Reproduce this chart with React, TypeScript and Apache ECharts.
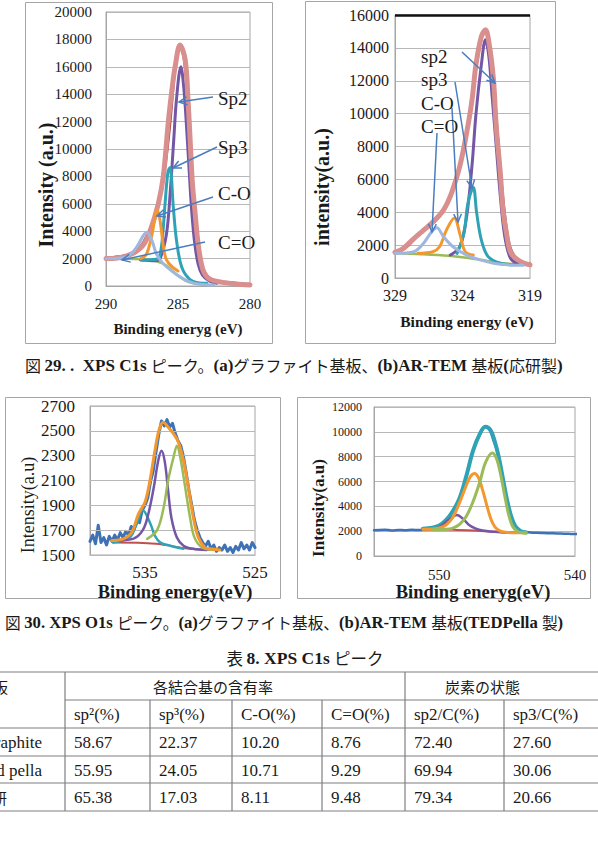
import React, { useEffect, useRef } from "react";
import * as echarts from "echarts";

// ---------- (a) XPS C1s, graphite substrate ----------
const c1XTicks = [280, 285, 290];
const c1Raw = [[290,2050],[289.5,2080],[289,2150],[288.5,2250],[288,2500],[287.5,3000],[287,4000],[286.5,5400],[286,8000],[285.6,11500],[285.2,16000],[284.9,17500],[284.6,16800],[284.3,13500],[284,7600],[283.7,3800],[283.4,1800],[283.1,900],[282.7,500],[282.2,330],[281.5,250],[281,200],[280.5,150],[280,120]];
const c1Envelope = [[290,2000],[289.2,2050],[288.56,2200],[288,2450],[287.4,3000],[286.94,4000],[286.37,6000],[286.02,8000],[285.67,12000],[285.4,14500],[285.2,16000],[284.86,17600],[284.5,16500],[284.3,13500],[284.15,10500],[284,7500],[283.8,5200],[283.65,3500],[283.45,2000],[283.2,1000],[282.8,500],[282,280],[281,150],[280,80]];
const c1Sp2 = [[287.6,1900],[286.6,1850],[286.25,2000],[285.8,3800],[285.55,6700],[285.3,10600],[285.1,13700],[284.8,16000],[284.6,14500],[284.4,11500],[284.2,8000],[284.05,5500],[283.85,3200],[283.6,1600],[283.3,800],[282.8,350],[282.3,200]];
const c1Sp3 = [[287.5,1900],[286.5,1950],[286.3,2100],[286.1,3300],[285.9,6000],[285.7,8300],[285.56,8650],[285.32,5700],[285.1,3300],[284.75,1400],[284.2,500],[283.5,220],[283,200]];
const c1CO = [[287.6,2000],[287.2,2300],[286.8,3800],[286.55,5300],[286.44,5550],[286.25,4800],[286,2800],[285.8,1900],[285.4,1400],[285,1100]];
const c1CdO = [[290,2000],[288.6,2100],[287.9,2800],[287.4,3700],[287.18,3930],[286.8,3300],[286.5,2350],[286,1600],[285.3,1000],[284.6,500],[283.9,200],[283,100],[282.5,80]];
const c1Base = [[290,2000],[287.5,1950],[286.5,1800],[285.8,1500],[285.3,1000],[284.8,600],[284.3,300],[283.5,150],[283,100]];
const c1Labels = ["Sp2", "Sp3", "C-O", "C=O"];

// ---------- (b) XPS C1s, AR-TEM substrate (応研製) ----------
const c2XTicks = [319, 324, 329];
const c2Top = [16000];
const c2Raw = [[329,1600],[328.5,1700],[328,2000],[327.5,2450],[327,2800],[326.5,3150],[326,3500],[325.5,4000],[325,4800],[324.5,5900],[324,7600],[323.5,9800],[323,12800],[322.6,14600],[322.3,15000],[322,14000],[321.7,11800],[321.4,8600],[321.1,5600],[320.8,3300],[320.5,1900],[320.1,1250],[319.6,950],[319,850]];
const c2Envelope = [[329,1560],[328.4,1800],[327.6,2400],[326.9,2900],[326.2,3400],[325.4,4150],[324.8,5200],[324.2,6800],[323.7,8800],[323.3,10800],[323,13000],[322.6,14700],[322.3,15100],[322,14100],[321.7,12000],[321.5,9200],[321.2,6400],[321,4150],[320.7,2500],[320.4,1500],[319.7,1000],[319,800]];
const c2Sp2 = [[324.9,1400],[324.2,1900],[323.7,3700],[323.3,6800],[323,10000],[322.6,13000],[322.3,14500],[322.05,13500],[321.8,11000],[321.5,8000],[321.2,5000],[320.9,2700],[320.5,1300],[320,900],[319.3,820]];
const c2Sp3 = [[324.4,1500],[323.9,2700],[323.6,4550],[323.2,5500],[322.95,3950],[322.6,2300],[322.1,1300],[321.2,900],[320.2,800]];
const c2CO = [[327.3,1500],[326.2,1600],[325.7,1900],[325.2,2900],[324.6,3650],[324.2,2700],[323.8,1600],[323.2,1400]];
const c2CdO = [[329,1500],[327.6,1600],[326.9,2100],[326.3,2800],[325.9,3050],[325.4,2500],[324.7,1900],[323.7,1400],[322.7,1100],[321.7,900],[320.7,800],[319.5,780]];
const c2Base = [[329,1500],[327,1450],[325,1350],[323,1150],[321,900],[319,800]];
const c2Labels = ["sp2", "sp3", "C-O", "C=O"];

// ---------- (a) XPS O1s, graphite substrate ----------
const o1XTicks = [525, 535];
const o1YTicks = [1500, 1700, 1900, 2100, 2300, 2500, 2700];
const o1Raw = [[540,1610],[539.75,1660],[539.5,1590],[539.25,1740],[539,1600],[538.75,1640],[538.5,1580],[538.25,1650],[538,1610],[537.75,1660],[537.5,1620],[537.25,1680],[537,1640],[536.75,1690],[536.5,1660],[536.25,1730],[536,1700],[535.75,1780],[535.5,1760],[535.25,1860],[535,1900],[534.75,1960],[534.5,2090],[534.25,2180],[534,2330],[533.75,2470],[533.5,2580],[533.25,2540],[533,2590],[532.75,2530],[532.5,2560],[532.25,2480],[532,2420],[531.75,2380],[531.5,2290],[531.25,2160],[531,2020],[530.75,1900],[530.5,1780],[530.25,1700],[530,1640],[529.75,1600],[529.5,1570],[529.25,1610],[529,1550],[528.75,1580],[528.5,1530],[528.25,1560],[528,1540],[527.75,1580],[527.5,1530],[527.25,1560],[527,1520],[526.75,1570],[526.5,1540],[526.25,1600],[526,1550],[525.75,1580],[525.5,1540],[525.25,1600],[525,1560]];
const o1Envelope = [[538.03,1616],[536.97,1630],[536.2,1683],[535.6,1830],[535,1925],[534.55,2100],[534.1,2340],[533.7,2515],[533.33,2570],[532.9,2530],[532.4,2475],[531.97,2410],[531.5,2260],[531.06,2045],[530.6,1800],[530.15,1640],[529.55,1560],[529.1,1550],[528.2,1540]];
const o1PeakA = [[537.9,1616],[536.1,1630],[535.2,1700],[534.7,1830],[534.2,2045],[533.8,2260],[533.5,2340],[533.2,2250],[532.9,2020],[532.6,1800],[532.1,1640],[531.5,1575],[530.6,1550],[529.4,1540]];
const o1PeakB = [[534.8,1630],[533.9,1700],[533.3,1885],[532.9,2100],[532.4,2290],[532.1,2380],[531.8,2290],[531.4,2075],[530.9,1800],[530.5,1640],[529.8,1560],[528.8,1540]];
const o1PeakC = [[537.9,1600],[536.4,1640],[535.8,1740],[535.2,1860],[534.5,1750],[534.1,1655],[533.6,1600],[532.7,1575],[531.5,1550]];
const o1Base = [[537.9,1600],[534,1590],[531,1550],[528.2,1540]];

// ---------- (b) XPS O1s, AR-TEM substrate (TEDPella製) ----------
const o2XTicks = [540, 550];
const o2Raw = [[554.8,2080],[554,2110],[553.5,2060],[553,2100],[552.5,2070],[552,2110],[551.5,2090],[551,2150],[550.5,2250],[550,2450],[549.5,2900],[549,3600],[548.5,4600],[548,6400],[547.5,8500],[547,9800],[546.6,10450],[546.3,10200],[546,9300],[545.7,8300],[545.4,6800],[545.1,4900],[544.8,3400],[544.5,2500],[544.2,2100],[543.8,1950],[543.3,1900],[542.8,1870],[542.3,1850],[541.8,1830],[541.3,1810],[540.8,1800],[540.3,1780],[539.8,1760]];
const o2Envelope = [[551.2,2200],[550.5,2280],[550,2450],[549.5,2880],[549,3600],[548.5,4650],[548,6450],[547.5,8500],[547,9850],[546.6,10400],[546.2,10100],[545.9,9200],[545.6,7900],[545.3,6200],[545,4500],[544.7,3200],[544.4,2400],[544,2000],[543.6,1900]];
const o2PeakA = [[551.2,2150],[550.5,2180],[550,2250],[549.5,2500],[549,3100],[548.5,4300],[548,5700],[547.7,6400],[547.4,6650],[547.1,6300],[546.8,5300],[546.5,4100],[546.2,3000],[545.9,2350],[545.5,2000],[545,1900],[544.5,1880],[543.6,1870]];
const o2PeakB = [[550.5,2120],[549.5,2150],[549,2250],[548.5,2550],[548,3200],[547.5,4400],[547,6000],[546.6,7500],[546.1,8300],[545.8,7900],[545.5,6700],[545.2,5000],[544.9,3400],[544.6,2400],[544.2,1950],[543.8,1870],[543.6,1860]];
const o2PeakC = [[551,2150],[550.3,2200],[549.8,2450],[549.3,2900],[548.7,3300],[548.2,2950],[547.8,2500],[547.3,2200],[546.8,2050],[546,1950],[545.3,1900],[544.5,1870]];
const o2Base = [[551,2150],[549,2120],[547,2020],[545,1900],[544,1870]];

// ---------- Table 8 ----------
const tableSamples = ["Graphite", "Ted pella", "応研"];
const tableGroupHeaders = ["各結合基の含有率", "炭素の状態"];
const tableColumns = ["sp²(%)", "sp³(%)", "C-O(%)", "C=O(%)", "sp2/C(%)", "sp3/C(%)"];
const tableRows = [
  ["58.67", "22.37", "10.20", "8.76", "72.40", "27.60"],
  ["55.95", "24.05", "10.71", "9.29", "69.94", "30.06"],
  ["65.38", "17.03", "8.11", "9.48", "79.34", "20.66"],
];

const SERIF = '"Liberation Serif", "Noto Sans CJK JP", serif';
const CJK = '"Noto Sans CJK JP", "Liberation Serif", sans-serif';
const PINK = "#d88f8d";
const DARKRED = "#a23c3a";
const PURPLE = "#7356a6";
const TEAL = "#2fa3b6";
const ORANGE = "#f3982e";
const LIGHTBLUE = "#9fb7de";
const GREEN = "#9bbb59";
const RAWBLUE = "#3f72b5";
const GRIDC = "#b8b8b8";
const BORDERC = "#a6a6a6";
const ARROWC = "#4a7dc0";
const INK = "#1a1a1a";

const plain = (v: number) => String(v);

function ln(data: number[][], color: string, width: number, idx: number, z: number, extra: any = {}) {
  return {
    type: "line",
    data,
    xAxisIndex: idx,
    yAxisIndex: idx,
    showSymbol: false,
    symbol: "none",
    smooth: 0.35,
    silent: true,
    z,
    lineStyle: { color, width, cap: "round", join: "round" },
    ...extra,
  };
}

function txt(text: string, x: number, y: number, size: number, opts: any = {}) {
  const align = opts.align || "left";
  return {
    type: "text",
    x,
    y,
    rotation: opts.rotation || 0,
    z: 100,
    style: {
      text,
      fill: INK,
      fontFamily: opts.family || SERIF,
      fontSize: size,
      fontWeight: opts.weight || "normal",
      align,
      textAlign: align,
      verticalAlign: "middle",
      textVerticalAlign: "middle",
    },
  };
}

function rich(text: string, x: number, y: number, size: number, align = "left") {
  return {
    type: "text",
    x,
    y,
    z: 100,
    style: {
      text,
      align,
      textAlign: align,
      verticalAlign: "middle",
      textVerticalAlign: "middle",
      fill: INK,
      rich: {
        j: { fontFamily: CJK, fontSize: size - 0.5, fill: INK },
        b: { fontFamily: SERIF, fontSize: size + 0.5, fontWeight: "bold", fill: INK },
      },
    },
  };
}

function arrow(x1: number, y1: number, x2: number, y2: number) {
  const a = Math.atan2(y2 - y1, x2 - x1);
  const L = 9;
  const s = 0.45;
  return [
    { type: "line", z: 90, shape: { x1, y1, x2, y2 }, style: { stroke: ARROWC, lineWidth: 1.5 } },
    {
      type: "polyline",
      z: 90,
      shape: {
        points: [
          [x2 - L * Math.cos(a - s), y2 - L * Math.sin(a - s)],
          [x2, y2],
          [x2 - L * Math.cos(a + s), y2 - L * Math.sin(a + s)],
        ],
      },
      style: { stroke: ARROWC, lineWidth: 1.5, fill: "none" },
    },
  ];
}

function hline(x1: number, x2: number, y: number, color = "#7f7f7f") {
  return { type: "line", z: 50, shape: { x1, y1: y, x2, y2: y }, style: { stroke: color, lineWidth: 1.2 } };
}
function vline(x: number, y1: number, y2: number, color = "#7f7f7f") {
  return { type: "line", z: 50, shape: { x1: x, y1, x2: x, y2 }, style: { stroke: color, lineWidth: 1.2 } };
}
function box(x: number, y: number, w: number, h: number) {
  return { type: "rect", z: 1, shape: { x: x + 0.5, y: y + 0.5, width: w, height: h }, style: { stroke: BORDERC, lineWidth: 1, fill: "none" } };
}

function xAx(idx: number, min: number, max: number, ticks: number[], size: number, margin: number) {
  return {
    type: "value",
    gridIndex: idx,
    min,
    max,
    inverse: true,
    axisLine: { show: true, onZero: false, lineStyle: { color: BORDERC, width: 1 } },
    axisTick: { show: false },
    splitLine: { show: false },
    axisLabel: { customValues: ticks, formatter: plain, color: INK, fontFamily: SERIF, fontSize: size, margin, showMinLabel: true, showMaxLabel: true },
  };
}
function yAx(idx: number, min: number, max: number, interval: number, size: number, margin: number, extra: any = {}) {
  return {
    type: "value",
    gridIndex: idx,
    min,
    max,
    interval,
    axisLine: { show: true, lineStyle: { color: BORDERC, width: 1 } },
    axisTick: { show: false },
    splitLine: { show: true, lineStyle: { color: GRIDC, width: 1 } },
    axisLabel: { formatter: plain, color: INK, fontFamily: SERIF, fontSize: size, margin },
    ...extra,
  };
}

export default function App() {
  const ref = useRef<HTMLDivElement>(null);
  useEffect(() => {
    if (!ref.current) return;
    const chart = echarts.init(ref.current, null, { renderer: "svg", width: 598, height: 845 });

    const grids = [
      { left: 106, top: 12, width: 144, height: 274 },
      { left: 395, top: 15, width: 135, height: 263 },
      { left: 90, top: 406, width: 165, height: 149 },
      { left: 374, top: 407, width: 201, height: 149 },
    ].map((g) => ({ ...g, show: true, borderColor: BORDERC, borderWidth: 1, backgroundColor: "transparent" }));

    const series: any[] = [
      // chart 1
      ln(c1Base, GREEN, 2.5, 0, 2),
      ln(c1Raw, DARKRED, 3, 0, 3),
      ln(c1Sp2, PURPLE, 3, 0, 4),
      ln(c1Envelope, PINK, 5, 0, 5),
      ln(c1Sp3, TEAL, 3, 0, 6),
      ln(c1CO, ORANGE, 3, 0, 6),
      ln(c1CdO, LIGHTBLUE, 3, 0, 7),
      // chart 2
      ln(c2Base, GREEN, 2.5, 1, 2, {
        markLine: {
          silent: true,
          symbol: "none",
          label: { show: false },
          lineStyle: { color: "#111", width: 2.5, type: "solid" },
          data: c2Top.map((v) => ({ yAxis: v })),
        },
      }),
      ln(c2Raw, DARKRED, 3, 1, 3),
      ln(c2Sp2, PURPLE, 3, 1, 4),
      ln(c2Envelope, PINK, 5, 1, 5),
      ln(c2Sp3, TEAL, 3, 1, 6),
      ln(c2CO, ORANGE, 3, 1, 6),
      ln(c2CdO, LIGHTBLUE, 3, 1, 7),
      // chart 3
      {
        type: "line",
        data: [],
        xAxisIndex: 2,
        yAxisIndex: 2,
        z: 1,
        silent: true,
        markLine: {
          silent: true,
          symbol: "none",
          label: { show: false },
          lineStyle: { color: GRIDC, width: 1, type: "solid" },
          data: o1YTicks.map((v) => ({ yAxis: v })),
        },
      },
      ln(o1Raw, RAWBLUE, 3, 2, 3, { smooth: false }),
      ln(o1Base, "#c0504d", 2, 2, 4),
      ln(o1PeakC, TEAL, 2.5, 2, 5),
      ln(o1PeakA, PURPLE, 2.5, 2, 5),
      ln(o1PeakB, GREEN, 2.5, 2, 5),
      ln(o1Envelope, ORANGE, 3, 2, 6),
      // chart 4
      ln(o2Raw, RAWBLUE, 2.5, 3, 3),
      ln(o2Envelope, TEAL, 4, 3, 4),
      ln(o2Base, "#c0504d", 2, 3, 5),
      ln(o2PeakC, PURPLE, 2.5, 3, 5),
      ln(o2PeakA, ORANGE, 3, 3, 6),
      ln(o2PeakB, GREEN, 3, 3, 6),
    ];

    const graphic: any[] = [
      box(25, 2, 247, 341),
      box(305, 1, 250, 342),
      box(5, 397, 275, 201),
      box(297, 397, 293, 201),
      // axis titles
      txt("Intensity (a.u.)", 46, 185, 20, { weight: "bold", align: "center", rotation: Math.PI / 2 }),
      txt("Binding eneryg (eV)", 178, 329, 15, { weight: "bold", align: "center" }),
      txt("intensity(a.u.)", 322, 187, 20, { weight: "bold", align: "center", rotation: Math.PI / 2 }),
      txt("Binding energy (eV)", 467, 321, 15.5, { weight: "bold", align: "center" }),
      txt("Intensity(a.u)", 28, 505, 18, { align: "center", rotation: Math.PI / 2 }),
      txt("Binding energy(eV)", 175, 592, 18.5, { weight: "bold", align: "center" }),
      txt("Intensity(a.u)", 318, 508, 17, { weight: "bold", align: "center", rotation: Math.PI / 2 }),
      txt("Binding eneryg(eV)", 473, 592, 18.5, { weight: "bold", align: "center" }),
    ];

    // chart 1 annotations
    const c1Y = [98, 147, 193, 242];
    c1Labels.forEach((l, i) => graphic.push(txt(l, 218, c1Y[i], 19)));
    graphic.push(...arrow(213, 97, 179, 102));
    graphic.push(...arrow(217, 147, 173, 168));
    graphic.push(...arrow(213, 197, 157, 216));
    graphic.push(...arrow(205, 242, 122, 260));
    // chart 2 annotations
    const c2Y = [56, 79, 103, 126];
    c2Labels.forEach((l, i) => graphic.push(txt(l, 421, c2Y[i], 19)));
    graphic.push(...arrow(462, 52, 495, 83));
    graphic.push(...arrow(455, 82, 472, 188));
    graphic.push(...arrow(452, 108, 458, 222));
    graphic.push(...arrow(437, 133, 432, 232));

    // captions
    graphic.push(
      rich("{j|図 }{b|29. .  XPS C1s }{j|ピーク。}{b|(a)}{j|グラファイト基板、}{b|(b)AR-TEM }{j|基板}{b|(}{j|応研製}{b|)}", 25, 365, 16.5)
    );
    graphic.push(
      rich("{j|図 }{b|30. XPS O1s }{j|ピーク。}{b|(a)}{j|グラファイト基板、}{b|(b)AR-TEM }{j|基板}{b|(TEDPella }{j|製}{b|)}", 5, 622, 16.2)
    );
    graphic.push(rich("{j|表 }{b|8. XPS C1s }{j|ピーク}", 305, 658, 17, "center"));

    // table
    const colX = [65, 150, 232, 322, 405, 504];
    const lineY = [672, 700, 728, 756, 783, 811];
    graphic.push(hline(0, 598, lineY[0]));
    graphic.push(hline(colX[0], 598, lineY[1]));
    for (let i = 2; i < lineY.length; i++) graphic.push(hline(0, 598, lineY[i]));
    graphic.push(vline(colX[0], lineY[0], lineY[5]));
    graphic.push(vline(colX[4], lineY[0], lineY[5]));
    [1, 2, 3, 5].forEach((c) => graphic.push(vline(colX[c], lineY[1], lineY[5])));
    graphic.push(txt("基板", 8, 686, 15, { family: CJK, align: "right" }));
    graphic.push(txt(tableGroupHeaders[0], 153, 686, 15, { family: CJK }));
    graphic.push(txt(tableGroupHeaders[1], 445, 686, 15, { family: CJK }));
    tableColumns.forEach((c, i) => graphic.push(txt(c, colX[i] + 9, 714, 17)));
    const rowY = [742, 770, 797];
    tableSamples.forEach((s, r) => {
      const isCjk = /[\u3000-\u9fff]/.test(s);
      graphic.push(txt(s, r === 2 ? 7 : 42, rowY[r], isCjk ? 15 : 17, { family: isCjk ? CJK : SERIF, align: "right" }));
      tableRows[r].forEach((v, c) => graphic.push(txt(v, colX[c] + 9, rowY[r], 17)));
    });

    chart.setOption({
      animation: false,
      backgroundColor: "#ffffff",
      grid: grids,
      xAxis: [
        xAx(0, 280, 290, c1XTicks, 15, 10),
        xAx(1, 319, 329, c2XTicks, 16, 9),
        xAx(2, 525, 540, o1XTicks, 17, 9),
        xAx(3, 540, 554.8, o2XTicks, 15, 11),
      ],
      yAxis: [
        yAx(0, 0, 20000, 2000, 15, 14),
        yAx(1, 0, 16000, 2000, 16, 6),
        yAx(2, 1500, 2700, 200, 17, 15, {
          splitLine: { show: false },
          axisLabel: { customValues: o1YTicks, formatter: plain, color: INK, fontFamily: SERIF, fontSize: 17, margin: 15 },
        }),
        yAx(3, 0, 12000, 2000, 12, 12),
      ],
      series,
      graphic,
    });
    return () => chart.dispose();
  }, []);
  return <div ref={ref} style={{ position: "absolute", left: 0, top: 0, width: 598, height: 845, background: "#fff" }} />;
}
